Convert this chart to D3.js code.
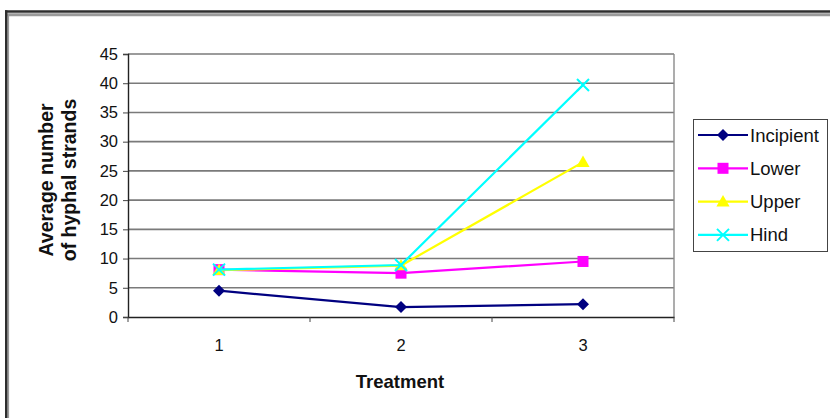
<!DOCTYPE html>
<html><head><meta charset="utf-8">
<script src="https://cdn.jsdelivr.net/npm/d3@7"></script>
<style>html,body{margin:0;padding:0;background:#fff;overflow:hidden}</style>
</head><body>
<svg id="c" width="830" height="418"></svg>
<script>
const categories = ["1", "2", "3"];
const seriesNames = ["Incipient", "Lower", "Upper", "Hind"];
const incipient = [4.5, 1.7, 2.2];
const lower = [8.1, 7.5, 9.5];
const upper = [8.0, 8.8, 26.5];
const hind = [8.1, 8.9, 39.7];
const yTicks = [0, 5, 10, 15, 20, 25, 30, 35, 40, 45];
const colors = ["#000080", "#FF00FF", "#FFFF00", "#00FFFF"];
const markers = ["diamond", "square", "triangle", "x"];
const series = [incipient, lower, upper, hind];

const svg = d3.select("#c");
const font = "'Liberation Sans', Arial, sans-serif";

// outer frame (cropped at right/bottom)
svg.append("line").attr("x1", 6).attr("x2", 830).attr("y1", 14.8).attr("y2", 14.8).attr("stroke", "#9a9a9a").attr("stroke-width", 3);
svg.append("line").attr("x1", 8.2).attr("x2", 8.2).attr("y1", 14).attr("y2", 418).attr("stroke", "#9a9a9a").attr("stroke-width", 1.8);
svg.append("line").attr("x1", 5).attr("x2", 830).attr("y1", 11.5).attr("y2", 11.5).attr("stroke", "#2e2e2e").attr("stroke-width", 2.6);
svg.append("line").attr("x1", 6.2).attr("x2", 6.2).attr("y1", 10.2).attr("y2", 418).attr("stroke", "#2e2e2e").attr("stroke-width", 2.4);

const L = 128, R = 674, T = 54, B = 317;
const x = d3.scaleBand().domain(categories).range([L, R]).padding(0);
const y = d3.scaleLinear().domain([0, 45]).range([B, T]);

// gridlines
svg.append("g").selectAll("line").data(yTicks.filter(d => d > 0)).join("line")
  .attr("x1", L).attr("x2", R).attr("y1", d => y(d)).attr("y2", d => y(d))
  .attr("stroke", "#7a7a7a").attr("stroke-width", 1.6);
// right plot border
svg.append("line").attr("x1", R).attr("x2", R).attr("y1", T).attr("y2", B)
  .attr("stroke", "#8a8a8a").attr("stroke-width", 1.4);

// y axis
const yAxis = d3.axisLeft(y).tickValues(yTicks).tickSize(5).tickPadding(5);
const gy = svg.append("g").attr("transform", `translate(${L},0)`).call(yAxis);
gy.select(".domain").attr("stroke", "#222").attr("stroke-width", 1.4);
gy.selectAll(".tick line").attr("stroke", "#444");
gy.selectAll("text").attr("font-family", font).attr("font-size", 16.5).attr("fill", "#111");

// x axis
const xAxis = d3.axisBottom(x).tickSize(0).tickPadding(22);
const gx = svg.append("g").attr("transform", `translate(0,${B})`).call(xAxis);
gx.select(".domain").attr("stroke", "#222").attr("stroke-width", 1.4);
gx.selectAll("text").attr("font-family", font).attr("font-size", 16.5).attr("fill", "#111");
// x tick marks between categories
const bounds = categories.map(c => x(c)).concat([x(categories[categories.length - 1]) + x.bandwidth()]);
svg.append("g").selectAll("line").data(bounds).join("line")
  .attr("x1", d => d).attr("x2", d => d).attr("y1", B).attr("y2", B + 5)
  .attr("stroke", "#444").attr("stroke-width", 1);

// axis titles
svg.append("text").attr("x", (L + R) / 2 - 1).attr("y", 388).attr("text-anchor", "middle")
  .attr("font-family", font).attr("font-weight", "bold").attr("font-size", 18.5).attr("fill", "#111").text("Treatment");
const yt = svg.append("text").attr("transform", `translate(0,180) rotate(-90)`)
  .attr("text-anchor", "middle").attr("font-family", font).attr("font-weight", "bold").attr("font-size", 19.5).attr("fill", "#111");
yt.append("tspan").attr("x", 0).attr("y", 53).text("Average number");
yt.append("tspan").attr("x", 0).attr("y", 76).text("of hyphal strands");

function drawMarker(g, type, cx, cy, color, s) {
  if (type === "diamond") {
    g.append("path").attr("d", `M${cx},${cy - s}L${cx + s},${cy}L${cx},${cy + s}L${cx - s},${cy}Z`).attr("fill", color);
  } else if (type === "square") {
    g.append("rect").attr("x", cx - s).attr("y", cy - s).attr("width", 2 * s).attr("height", 2 * s).attr("fill", color);
  } else if (type === "triangle") {
    g.append("path").attr("d", `M${cx},${cy - s * 1.1}L${cx + s * 1.1},${cy + s * 0.8}L${cx - s * 1.1},${cy + s * 0.8}Z`).attr("fill", color);
  } else {
    g.append("path").attr("d", `M${cx - s},${cy - s}L${cx + s},${cy + s}M${cx - s},${cy + s}L${cx + s},${cy - s}`)
      .attr("stroke", color).attr("stroke-width", 2).attr("fill", "none");
  }
}

const line = d3.line().x((d, i) => x(categories[i]) + x.bandwidth() / 2).y(d => y(d));
series.forEach((vals, si) => {
  const g = svg.append("g");
  g.append("path").attr("d", line(vals)).attr("fill", "none").attr("stroke", colors[si]).attr("stroke-width", 2.2);
  vals.forEach((v, i) => drawMarker(g, markers[si], x(categories[i]) + x.bandwidth() / 2, y(v), colors[si], si === 1 ? 5.5 : 6));
});

// legend
svg.append("rect").attr("x", 693.5).attr("y", 119.5).attr("width", 134).attr("height", 132)
  .attr("fill", "#fff").attr("stroke", "#444").attr("stroke-width", 1);
seriesNames.forEach((name, i) => {
  const ly = 135 + i * 33.3;
  const g = svg.append("g");
  g.append("line").attr("x1", 698).attr("x2", 748).attr("y1", ly).attr("y2", ly).attr("stroke", colors[i]).attr("stroke-width", 2.2);
  drawMarker(g, markers[i], 723, ly, colors[i], i === 1 ? 5.5 : 6);
  g.append("text").attr("x", 750).attr("y", ly + 6.5).attr("font-family", font).attr("font-size", 18.5).attr("fill", "#111").text(name);
});
</script>
</body></html>
